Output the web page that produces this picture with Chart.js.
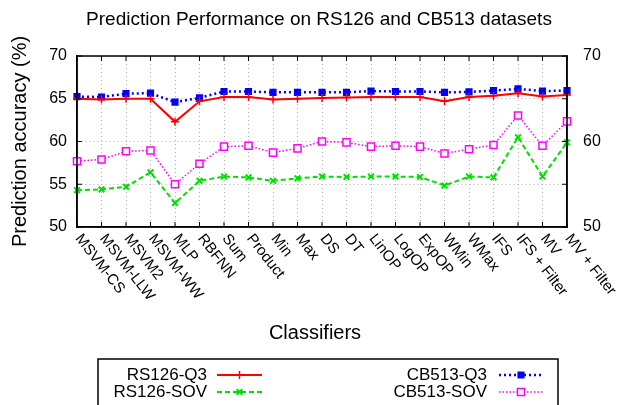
<!DOCTYPE html>
<html lang="en">
<head>
    <meta charset="UTF-8">
    <title>Prediction Performance</title>
    <script src="https://cdn.jsdelivr.net/npm/chart.js@4.4.1/dist/chart.umd.min.js"></script>
    <style>
        body{ margin:0; background:#fff; }
        #board{ width:623px; height:405px; }
    </style>
</head>
<body>
    <div id="board">
        <canvas id="chart1" width="623" height="405"></canvas>
    </div>
<script>
    // classifiers on the x axis
    const classifiers = ['MSVM-CS','MSVM-LLW','MSVM2','MSVM-WW','MLP','RBFNN','Sum','Product','Min','Max',
        'DS','DT','LinOP','LogOP','ExpOP','WMin','WMax','IFS','IFS + Filter','MV','MV + Filter'];

    // accuracy values (%)
    const rs126Q3  = [65.0, 64.9, 65.0, 65.0, 62.3, 64.7, 65.2, 65.2, 64.9, 65.0, 65.1, 65.15, 65.2, 65.2, 65.2, 64.7, 65.2, 65.35, 65.65, 65.25, 65.45];
    const rs126SOV = [54.3, 54.4, 54.7, 56.4, 52.8, 55.4, 55.9, 55.8, 55.4, 55.7, 55.9, 55.85, 55.9, 55.9, 55.85, 54.85, 55.9, 55.8, 60.5, 55.9, 59.9];
    const cb513Q3  = [65.25, 65.2, 65.6, 65.65, 64.6, 65.1, 65.85, 65.85, 65.75, 65.75, 65.75, 65.75, 65.9, 65.85, 65.85, 65.75, 65.8, 65.95, 66.15, 65.9, 65.95];
    const cb513SOV = [57.7, 57.9, 58.85, 58.95, 55.0, 57.4, 59.4, 59.5, 58.7, 59.2, 60.0, 59.9, 59.4, 59.5, 59.4, 58.6, 59.1, 59.6, 63.05, 59.5, 62.35];

    const leftTicks = [50, 55, 60, 65, 70];
    const rightTicks = [50, 60, 70];

    const FONT = "'Liberation Sans', Arial, sans-serif";

    // title, rotated category labels, frame, inward ticks, legend box
    const extras = {
        id: 'extras',
        afterDraw(chart){
            const ctx = chart.ctx;
            const a = chart.chartArea;
            const xs = chart.scales.x;
            const y = chart.scales.y;
            ctx.save();
            ctx.fillStyle = '#000';

            // title
            ctx.font = '19px ' + FONT;
            ctx.textAlign = 'center';
            ctx.textBaseline = 'middle';
            ctx.fillText('Prediction Performance on RS126 and CB513 datasets', 319, 20);

            // x axis title
            ctx.font = '20px ' + FONT;
            ctx.fillText('Classifiers', 315, 333);

            // frame
            ctx.strokeStyle = '#000';
            ctx.lineWidth = 1.5;
            ctx.strokeRect(a.left, a.top, a.right - a.left, a.bottom - a.top);

            // inward ticks
            ctx.lineWidth = 1;
            ctx.beginPath();
            classifiers.forEach((c, i) => {
                const px = xs.getPixelForTick(i);
                ctx.moveTo(px, a.bottom); ctx.lineTo(px, a.bottom - 5);
                ctx.moveTo(px, a.top); ctx.lineTo(px, a.top + 5);
            });
            leftTicks.forEach(v => {
                const py = y.getPixelForValue(v);
                ctx.moveTo(a.left, py); ctx.lineTo(a.left + 5, py);
                ctx.moveTo(a.right, py); ctx.lineTo(a.right - 5, py);
            });
            ctx.stroke();

            // rotated category labels
            ctx.font = '15px ' + FONT;
            ctx.textAlign = 'left';
            ctx.textBaseline = 'middle';
            classifiers.forEach((c, i) => {
                const px = xs.getPixelForTick(i);
                ctx.save();
                ctx.translate(px + 1, a.bottom + 9);
                ctx.rotate(52 * Math.PI / 180);
                ctx.fillText(c, 0, 0);
                ctx.restore();
            });

            // legend
            ctx.lineWidth = 1.5;
            ctx.strokeRect(98, 359, 460, 60);
            ctx.font = '17px ' + FONT;
            ctx.textAlign = 'right';
            const slots = [[207, 217, 262, 375], [207, 217, 262, 392], [487, 499, 543, 375], [487, 499, 543, 392]];
            chart.data.datasets.forEach((ds, i) => {
                const [tx, x0, x1, ly] = slots[i];
                ctx.fillStyle = '#000';
                ctx.fillText(ds.label, tx, ly);
                ctx.strokeStyle = ds.borderColor;
                ctx.lineWidth = ds.borderWidth;
                ctx.setLineDash(ds.borderDash || []);
                ctx.beginPath(); ctx.moveTo(x0, ly); ctx.lineTo(x1, ly); ctx.stroke();
                ctx.setLineDash([]);
                ctx.fillStyle = ds.backgroundColor;
                ctx.lineWidth = ds.pointBorderWidth;
                Chart.helpers.drawPoint(ctx, {
                    pointStyle: ds.pointStyle, radius: ds.pointRadius, borderWidth: ds.pointBorderWidth
                }, (x0 + x1) / 2, ly);
            });
            ctx.restore();
        }
    };

    const ctx = document.getElementById('chart1').getContext('2d');

    new Chart(ctx, {
        type: 'line',
        data: {
            labels: classifiers,
            datasets: [{
                label: 'RS126-Q3',
                data: rs126Q3,
                borderColor: '#ff0000',
                backgroundColor: '#ff0000',
                borderWidth: 2,
                pointStyle: 'cross',
                pointRadius: 4,
                pointBorderWidth: 1.5
            }, {
                label: 'RS126-SOV',
                data: rs126SOV,
                borderColor: '#00e000',
                backgroundColor: '#00e000',
                borderWidth: 2,
                borderDash: [5, 3],
                pointStyle: 'crossRot',
                pointRadius: 4,
                pointBorderWidth: 2
            }, {
                label: 'CB513-Q3',
                data: cb513Q3,
                borderColor: '#0000ff',
                backgroundColor: '#0000ff',
                borderWidth: 2.5,
                borderDash: [2, 3],
                pointStyle: 'rect',
                pointRadius: 4,
                pointBorderWidth: 1.5
            }, {
                label: 'CB513-SOV',
                data: cb513SOV,
                borderColor: '#ff00ff',
                backgroundColor: '#ffffff',
                borderWidth: 1.5,
                borderDash: [1.5, 2],
                pointStyle: 'rect',
                pointRadius: 5,
                pointBorderWidth: 1.5
            }]
        },
        options: {
            responsive: false,
            animation: false,
            layout: { padding: { top: 56, left: 0, right: 0, bottom: 0 } },
            plugins: {
                legend: { display: false },
                title: { display: false },
                tooltip: { enabled: false }
            },
            scales: {
                x: {
                    offset: false,
                    ticks: { display: false },
                    grid: { color: '#b0b0b0', drawTicks: false },
                    border: { color: '#000', width: 1.5, dash: [1, 3] },
                    afterFit: s => { s.height = 178; }
                },
                y: {
                    position: 'left',
                    min: 50, max: 70,
                    afterBuildTicks: s => { s.ticks = leftTicks.map(v => ({ value: v })); },
                    ticks: { color: '#000', font: { size: 16, family: FONT }, padding: 10 },
                    grid: { color: '#b0b0b0', drawTicks: false },
                    border: { color: '#000', width: 1.5, dash: [1, 3] },
                    title: {
                        display: true, text: 'Prediction accuracy (%)', color: '#000',
                        font: { size: 20, family: FONT }, padding: { top: 8, bottom: 0 }
                    },
                    afterFit: s => { s.width = 77; }
                },
                y2: {
                    position: 'right',
                    min: 50, max: 70,
                    afterBuildTicks: s => { s.ticks = rightTicks.map(v => ({ value: v })); },
                    ticks: { color: '#000', font: { size: 16, family: FONT }, padding: 16 },
                    grid: { display: false, drawTicks: false },
                    border: { color: '#000', width: 1.5 },
                    afterFit: s => { s.width = 56; }
                }
            }
        },
        plugins: [extras]
    });
</script>
</body>
</html>
